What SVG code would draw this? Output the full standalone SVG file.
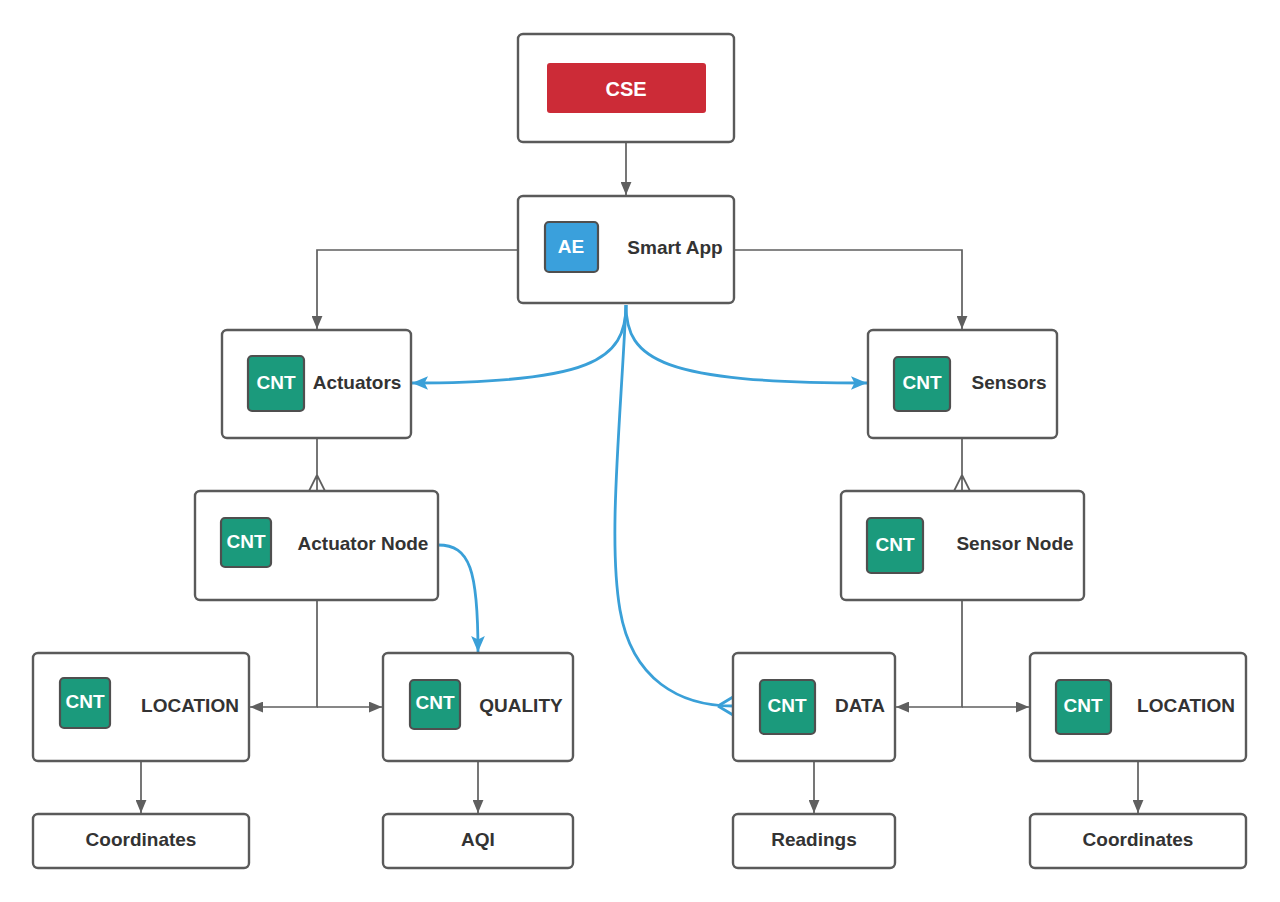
<svg xmlns="http://www.w3.org/2000/svg" width="1280" height="902" viewBox="0 0 1280 902">
<defs>
<style>
.box{fill:#fff;stroke:#5a5a5a;stroke-width:2.4}
.ic{stroke:#4f4f4f;stroke-width:2.2}
.cnt{fill:#1b9a7c}
.t{font-family:"Liberation Sans",Arial,sans-serif;font-weight:bold;font-size:19px;fill:#333;text-anchor:middle}
.w{fill:#fff}
.g{fill:none;stroke:#5f5f5f;stroke-width:1.7}
.b{fill:none;stroke:#3aa0d8;stroke-width:2.8}
</style>
<marker id="ag" viewBox="0 0 12 10" refX="12" refY="5" markerWidth="13" markerHeight="11" markerUnits="userSpaceOnUse" orient="auto"><path d="M0,0 L12,5 L0,10 Z" fill="#5f5f5f"/></marker>
<marker id="ab" viewBox="0 0 14 12" refX="14" refY="6" markerWidth="16" markerHeight="14" markerUnits="userSpaceOnUse" orient="auto"><path d="M0,0 L14,6 L0,12 L3,6 Z" fill="#3aa0d8"/></marker>
</defs>
<rect width="1280" height="902" fill="#fff"/>
<g id="connectors">
<path class="g" d="M626,142 V195" marker-end="url(#ag)"/>
<path class="g" d="M518,250 H317 V329" marker-end="url(#ag)"/>
<path class="g" d="M734,250 H962 V329" marker-end="url(#ag)"/>
<path class="g" d="M317,438 V491 M317,475 L309,491 M317,475 L325,491"/>
<path class="g" d="M962,438 V491 M962,475 L954,491 M962,475 L970,491"/>
<path class="g" d="M317,600 V707 H250" marker-end="url(#ag)"/>
<path class="g" d="M317,707 H382" marker-end="url(#ag)"/>
<path class="g" d="M962,600 V707 H896" marker-end="url(#ag)"/>
<path class="g" d="M962,707 H1029" marker-end="url(#ag)"/>
<path class="g" d="M141,761 V813" marker-end="url(#ag)"/>
<path class="g" d="M478,761 V813" marker-end="url(#ag)"/>
<path class="g" d="M814,761 V813" marker-end="url(#ag)"/>
<path class="g" d="M1138,761 V813" marker-end="url(#ag)"/>
<path class="b" d="M626,305 C626,360 590,383 412,383" marker-end="url(#ab)"/>
<path class="b" d="M626,305 C626,360 662,383 867,383" marker-end="url(#ab)"/>
<path class="b" d="M626,305 C620,430 608,540 620,610 C632,680 680,706 733,706"/>
<path class="b" d="M718,706 L733,697 M718,706 L733,715"/>
<path class="b" d="M438,545 C470,545 478,570 478,652" marker-end="url(#ab)"/>
</g>
<g id="cse">
<rect class="box" x="518" y="34" width="216" height="108" rx="5"/>
<rect x="547" y="63" width="159" height="50" rx="3" fill="#cc2b37"/>
<text class="t w" x="626" y="96" style="font-size:20px">CSE</text>
</g>
<g id="smart-app">
<rect class="box" x="518" y="196" width="216" height="107" rx="5"/>
<rect class="ic" x="545" y="222" width="53" height="50" rx="4" fill="#3aa0dc"/>
<text class="t w" x="571" y="253">AE</text>
<text class="t" x="675" y="254">Smart App</text>
</g>
<g id="actuators">
<rect class="box" x="222" y="330" width="189" height="108" rx="5"/>
<rect class="ic cnt" x="248" y="356" width="56" height="55" rx="4"/>
<text class="t w" x="276" y="389">CNT</text>
<text class="t" x="357" y="389">Actuators</text>
</g>
<g id="sensors">
<rect class="box" x="868" y="330" width="189" height="108" rx="5"/>
<rect class="ic cnt" x="894" y="357" width="56" height="54" rx="4"/>
<text class="t w" x="922" y="389">CNT</text>
<text class="t" x="1009" y="389">Sensors</text>
</g>
<g id="actuator-node">
<rect class="box" x="195" y="491" width="243" height="109" rx="5"/>
<rect class="ic cnt" x="221" y="518" width="50" height="49" rx="4"/>
<text class="t w" x="246" y="548">CNT</text>
<text class="t" x="363" y="550">Actuator Node</text>
</g>
<g id="sensor-node">
<rect class="box" x="841" y="491" width="243" height="109" rx="5"/>
<rect class="ic cnt" x="867" y="518" width="56" height="55" rx="4"/>
<text class="t w" x="895" y="551">CNT</text>
<text class="t" x="1015" y="550">Sensor Node</text>
</g>
<g id="location-left">
<rect class="box" x="33" y="653" width="216" height="108" rx="5"/>
<rect class="ic cnt" x="60" y="678" width="50" height="50" rx="4"/>
<text class="t w" x="85" y="708">CNT</text>
<text class="t" x="190" y="712">LOCATION</text>
</g>
<g id="quality">
<rect class="box" x="383" y="653" width="190" height="108" rx="5"/>
<rect class="ic cnt" x="410" y="680" width="50" height="49" rx="4"/>
<text class="t w" x="435" y="709">CNT</text>
<text class="t" x="521" y="712">QUALITY</text>
</g>
<g id="data">
<rect class="box" x="733" y="653" width="162" height="108" rx="5"/>
<rect class="ic cnt" x="760" y="680" width="55" height="54" rx="4"/>
<text class="t w" x="787" y="712">CNT</text>
<text class="t" x="860" y="712">DATA</text>
</g>
<g id="location-right">
<rect class="box" x="1030" y="653" width="216" height="108" rx="5"/>
<rect class="ic cnt" x="1056" y="680" width="55" height="54" rx="4"/>
<text class="t w" x="1083" y="712">CNT</text>
<text class="t" x="1186" y="712">LOCATION</text>
</g>
<g id="coordinates-left">
<rect class="box" x="33" y="814" width="216" height="54" rx="5"/>
<text class="t" x="141" y="846">Coordinates</text>
</g>
<g id="aqi">
<rect class="box" x="383" y="814" width="190" height="54" rx="5"/>
<text class="t" x="478" y="846">AQI</text>
</g>
<g id="readings">
<rect class="box" x="733" y="814" width="162" height="54" rx="5"/>
<text class="t" x="814" y="846">Readings</text>
</g>
<g id="coordinates-right">
<rect class="box" x="1030" y="814" width="216" height="54" rx="5"/>
<text class="t" x="1138" y="846">Coordinates</text>
</g>
</svg>
